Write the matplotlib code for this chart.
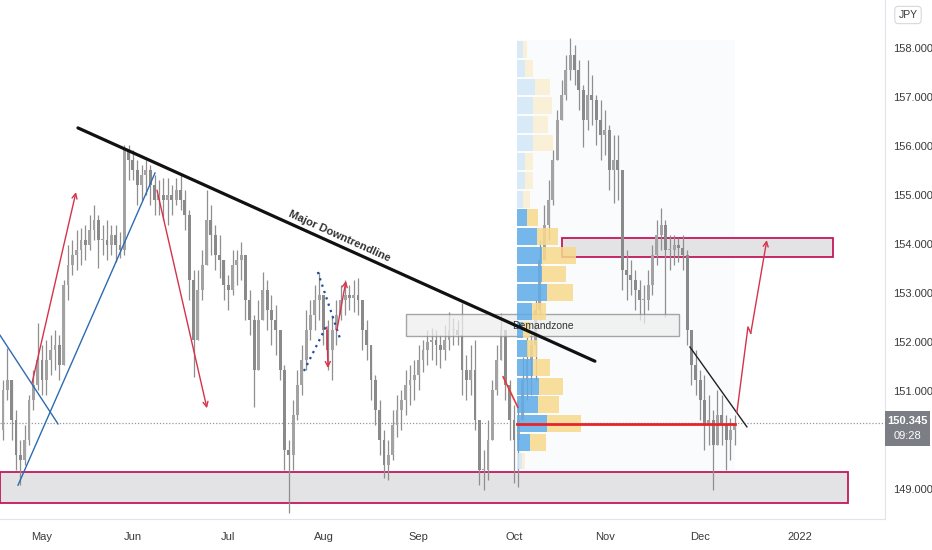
import matplotlib
matplotlib.use('Agg')
import matplotlib.pyplot as plt
import numpy as np
import pandas as pd
from matplotlib.patches import Rectangle
from matplotlib import font_manager

names = {f.name for f in font_manager.fontManager.ttflist}
NARROW = 'Liberation Sans Narrow' if 'Liberation Sans Narrow' in names else 'Liberation Sans'
plt.rcParams['font.family'] = [NARROW, 'DejaVu Sans']

# ---------------- data (daily candles) ----------------
start_date = '2021-04-19'
highs = [150.61, 151.22, 151.88, 150.82, 150.61, 150.00, 150.31, 150.92, 151.43, 152.39,
         151.94, 152.04, 152.14, 152.24, 152.14, 153.27, 153.98, 154.08, 154.29, 154.33,
         154.39, 154.59, 154.80, 154.59, 154.39, 154.49, 154.39, 154.39, 154.25, 156.02,
         156.02, 155.92, 155.71, 155.61, 155.71, 155.61, 155.41, 155.31, 155.35, 155.35,
         155.20, 155.35, 155.41, 155.10, 154.69, 153.47, 153.47, 153.88, 155.10, 154.80,
         154.39, 154.18, 153.67, 153.37, 153.88, 153.88, 154.04, 153.47, 153.06, 152.55,
         152.86, 153.43, 153.27, 152.96, 152.76, 152.24, 151.53, 150.00, 150.82, 151.43,
         151.94, 152.65, 152.86, 153.16, 153.43, 152.86, 152.45, 152.55, 152.86, 153.16,
         153.27, 153.16, 153.27, 153.31, 152.86, 152.45, 151.94, 151.33, 150.82, 150.20,
         150.00, 150.61, 150.92, 151.02, 151.43, 151.53, 151.63, 151.94, 152.04, 152.24,
         152.29, 152.24, 152.14, 152.35, 152.61, 152.49, 152.45, 152.80, 151.73, 151.94,
         152.04, 150.41, 149.80, 150.41, 151.22, 151.94, 152.59, 152.24, 151.22, 150.71,
         150.82, 151.69, 152.10, 152.24, 152.86, 154.08, 154.80, 155.31, 155.92, 156.73,
         157.35, 157.86, 158.20, 158.06, 157.76, 157.25, 157.76, 157.45, 157.04, 156.94,
         156.73, 156.43, 156.22, 156.22, 155.51, 153.88, 153.67, 153.47, 153.27, 153.16,
         153.47, 153.98, 154.49, 154.73, 154.49, 154.18, 154.18, 154.12, 154.18, 153.88,
         151.94, 151.84, 151.43, 151.33, 150.92, 150.61, 151.02, 150.92, 150.51, 150.45, 150.51]
lows = [149.86, 150.00, 150.82, 150.00, 149.39, 149.08, 149.49, 149.90, 150.61, 151.02,
        150.92, 150.92, 151.33, 151.43, 151.22, 151.84, 152.86, 153.37, 153.47, 153.57,
        153.67, 153.88, 154.08, 153.51, 153.78, 153.67, 153.78, 153.63, 153.71, 153.78,
        155.31, 155.31, 154.80, 154.90, 155.00, 154.80, 154.59, 154.59, 154.49, 154.39,
        154.59, 154.80, 154.69, 154.29, 152.86, 151.29, 152.04, 152.86, 153.67, 153.78,
        153.47, 153.31, 152.86, 152.65, 152.96, 153.16, 153.27, 152.45, 152.14, 150.67,
        151.63, 152.45, 152.24, 151.94, 151.73, 151.22, 149.39, 148.51, 149.39, 150.41,
        150.92, 151.43, 152.04, 152.24, 152.45, 151.94, 151.43, 151.22, 151.94, 152.45,
        152.55, 152.65, 152.61, 152.55, 151.84, 151.63, 150.82, 150.31, 149.69, 149.22,
        149.18, 149.59, 150.06, 150.20, 150.51, 150.71, 150.82, 151.02, 151.39, 151.53,
        151.63, 151.53, 151.47, 151.63, 151.84, 151.94, 151.94, 150.92, 150.82, 150.92,
        150.20, 149.08, 148.98, 149.18, 150.00, 150.92, 151.63, 150.82, 150.00, 149.12,
        149.04, 150.41, 150.82, 150.92, 151.22, 152.45, 153.88, 154.08, 154.80, 155.71,
        156.63, 156.94, 157.35, 157.25, 156.73, 155.98, 156.33, 156.43, 156.02, 155.71,
        155.82, 155.10, 154.84, 154.90, 153.06, 152.86, 152.96, 152.65, 152.45, 152.39,
        152.65, 152.96, 153.57, 153.88, 152.51, 153.47, 153.57, 153.63, 153.47, 151.94,
        151.12, 150.92, 150.41, 149.80, 149.90, 148.98, 150.00, 149.90, 149.39, 149.59, 149.90]
closes = [150.20, 151.02, 151.22, 150.41, 149.69, 149.59, 150.00, 150.82, 151.12, 151.63,
          151.22, 151.63, 151.84, 151.94, 151.53, 153.16, 153.57, 153.78, 153.88, 154.08,
          153.98, 154.29, 154.49, 154.08, 154.08, 153.98, 154.18, 153.98, 153.88, 155.92,
          155.71, 155.51, 155.20, 155.41, 155.51, 155.20, 154.90, 155.00, 154.90, 155.00,
          154.90, 155.10, 154.90, 154.59, 153.27, 152.04, 153.06, 153.57, 154.49, 154.18,
          153.78, 153.67, 153.16, 153.06, 153.57, 153.67, 153.78, 152.86, 152.45, 151.43,
          152.45, 153.06, 152.65, 152.45, 152.24, 151.43, 149.80, 149.69, 150.51, 151.12,
          151.63, 152.24, 152.55, 152.86, 152.96, 152.24, 151.84, 152.24, 152.55, 152.86,
          152.96, 152.90, 152.96, 152.86, 152.24, 151.94, 151.22, 150.61, 150.00, 149.49,
          149.69, 150.31, 150.61, 150.82, 151.12, 151.22, 151.33, 151.63, 151.84, 152.00,
          152.04, 151.94, 151.84, 152.04, 152.24, 152.24, 152.14, 151.43, 151.22, 151.43,
          150.41, 149.39, 149.39, 150.00, 151.02, 151.63, 152.24, 151.12, 150.41, 150.00,
          150.41, 151.22, 151.63, 151.94, 152.65, 153.67, 154.39, 154.90, 155.71, 156.53,
          157.04, 157.55, 157.86, 157.55, 157.14, 156.53, 157.04, 156.94, 156.53, 156.22,
          156.33, 155.51, 155.71, 155.51, 153.47, 153.37, 153.27, 153.06, 152.86, 152.86,
          153.16, 153.78, 154.18, 154.39, 153.88, 153.88, 153.98, 153.92, 153.78, 152.24,
          151.53, 151.22, 150.82, 150.31, 150.41, 149.90, 150.51, 150.31, 150.00, 150.20, 150.35]
first_open = 150.40
last_price = 150.345
countdown = '09:28'

# volume profile (fixed range from Oct 1), top row first
vp_top = 158.16
vp_row = 0.3816
vp_up = [6, 8, 18, 16, 16, 16, 8, 8, 6, 10, 20, 25, 25, 30, 15, 6, 10, 16, 22, 21, 30, 13, 5]
vp_down = [4, 8, 15, 19, 15, 20, 8, 8, 7, 11, 21, 34, 24, 26, 14, 7, 10, 17, 24, 21, 34, 16, 3]
vp_value_area = (9, 21)   # row indices inclusive, saturated

price_ticks = [149, 150, 151, 152, 153, 154, 155, 156, 157, 158]
month_labels = ['May', 'Jun', 'Jul', 'Aug', 'Sep', 'Oct', 'Nov', 'Dec', '2022']
month_starts = ['2021-05', '2021-06', '2021-07', '2021-08', '2021-09', '2021-10',
                '2021-11', '2021-12', '2022-01']

# ---------------- setup ----------------
n = len(closes)
dates = pd.bdate_range(start_date, periods=n)
all_days = pd.bdate_range(start_date, '2022-02-28')
xi = np.arange(n)
opens = [first_open] + closes[:-1]

fig = plt.figure(figsize=(9.32, 5.5), dpi=100)
fig.patch.set_facecolor('white')
ax = fig.add_axes([0, 31 / 550, 885 / 932, 519 / 550])
ax.set_facecolor('white')
ax.set_xlim(0.3, 204.7)
ax.set_ylim(148.39, 158.98)

def bidx(date_str):
    return int(np.searchsorted(all_days, pd.Timestamp(date_str)))

# zones (behind candles)
ax.add_patch(Rectangle((0.3, 148.71), 196.1 - 0.3, 149.35 - 148.71, facecolor='#e3e3e5',
                       edgecolor='#c2185b', lw=1.3, zorder=1))
ax.add_patch(Rectangle((130.1, 153.74), 192.7 - 130.1, 154.12 - 153.74, facecolor='#e3e3e5',
                       edgecolor='#c2185b', lw=1.3, zorder=1))
# faint fixed-range background
ax.add_patch(Rectangle((119.7, 149.38), 170.0 - 119.7, 158.16 - 149.38, facecolor='#f4f8fc',
                       edgecolor='none', alpha=0.5, zorder=0.5))

# candles
for k in range(n):
    o, c = opens[k], closes[k]
    h = max(highs[k], o, c)
    l = min(lows[k], o, c)
    col = '#a3a3a3' if c >= o else '#8a8a8a'
    ax.vlines(xi[k], l, h, color='#8f8f8f', lw=0.9, zorder=2)
    ax.add_patch(Rectangle((xi[k] - 0.33, min(o, c)), 0.66, max(abs(c - o), 0.02),
                           facecolor=col, edgecolor='none', zorder=2))

# demand zone (semi transparent, above candles)
ax.add_patch(Rectangle((94.1, 152.12), 157.1 - 94.1, 152.57 - 152.12, facecolor='#eeeeee',
                       edgecolor='#8a8a8a', lw=1.0, alpha=0.75, zorder=3))
ax.text(125.7, 152.33, 'Demandzone', fontsize=7.5, color='#333333', ha='center', va='center', zorder=6)

# volume profile
scale = 14.8 / max(u + d for u, d in zip(vp_up, vp_down))
for r, (u, d) in enumerate(zip(vp_up, vp_down)):
    y0 = vp_top - (r + 1) * vp_row
    inside = vp_value_area[0] <= r <= vp_value_area[1]
    bc = '#5eace8' if inside else '#d3e7f8'
    yc = '#f8d98c' if inside else '#fbefd2'
    ax.add_patch(Rectangle((119.7, y0 + 0.02), u * scale, vp_row - 0.04, facecolor=bc,
                           edgecolor='none', alpha=0.85, zorder=4))
    ax.add_patch(Rectangle((119.7 + u * scale, y0 + 0.02), d * scale, vp_row - 0.04, facecolor=yc,
                           edgecolor='none', alpha=0.85, zorder=4))

# POC line
ax.plot([119.7, 170.0], [150.33, 150.33], color='#e8242b', lw=2, zorder=5)
# current price dotted line
ax.axhline(last_price, color='#9598a1', lw=0.9, ls=(0, (1, 1.5)), zorder=1.5)

# major downtrendline
ax.plot([18.3, 137.7], [156.37, 151.61], color='#111111', lw=2.3, zorder=6, solid_capstyle='round')
ax.text(78.8, 154.16, 'Major Downtrendline', fontsize=8, fontweight='bold', color='#333333',
        rotation=-24.3, ha='center', va='center', zorder=6)

# blue trendlines
ax.plot([0.3, 13.7], [152.14, 150.33], color='#2b6cb0', lw=1.0, zorder=6)
ax.plot([4.46, 36.1], [149.08, 155.45], color='#2b6cb0', lw=1.0, zorder=6)
ax.plot([73.7, 78.8], [153.43, 152.08], color='#1f4e9c', lw=1.6, ls=(0, (1, 2)), zorder=6)
ax.plot([70.5, 75.8], [151.41, 152.35], color='#1f4e9c', lw=1.6, ls=(0, (1, 2)), zorder=6)

# red arrows
RED = '#d6334a'
def arrow(x0, y0, x1, y1, col=RED, lw=1.0):
    ax.annotate('', xy=(x1, y1), xytext=(x0, y0),
                arrowprops=dict(arrowstyle='->', color=col, lw=lw, mutation_scale=9,
                                shrinkA=0, shrinkB=0), zorder=7)

arrow(7.69, 151.16, 17.85, 155.06)
arrow(36.56, 155.10, 48.1, 150.65)
arrow(75.8, 152.31, 76.05, 151.47)
arrow(78.1, 152.24, 80.2, 153.25)
ax.plot([116.5, 119.9], [151.29, 150.67], color='#e53935', lw=1.2, zorder=7)
ax.plot([170.5, 173.05, 173.7], [150.57, 152.31, 152.18], color=RED, lw=1.0, zorder=7)
arrow(173.7, 152.18, 177.4, 154.08)
# small black trendline
ax.plot([159.65, 172.8], [151.90, 150.27], color='#222222', lw=1.0, zorder=6)

# axes styling
for s in ['top', 'left']:
    ax.spines[s].set_visible(False)
ax.spines['right'].set_color('#e0e3eb')
ax.spines['bottom'].set_color('#e0e3eb')
ax.yaxis.tick_right()
ax.set_yticks(price_ticks)
# the 150.000 label is hidden under the last-price badge in the reference
ax.set_yticklabels(['' if v == 150 else f'{v:.3f}' for v in price_ticks])
ax.tick_params(axis='y', length=0, pad=6, labelsize=8, labelcolor='#3a3a3a')
ax.set_xticks([bidx(m + '-01') for m in month_starts])
ax.set_xticklabels(month_labels)
ax.tick_params(axis='x', length=0, pad=9, labelsize=8, labelcolor='#3a3a3a')

# last price label
fig.add_artist(Rectangle((885 / 932, 1 - 446 / 550), 45 / 932, 35 / 550, transform=fig.transFigure,
                         facecolor='#7b7e85', edgecolor='none', zorder=10))
fig.text(907.5 / 932, 1 - 421 / 550, f'{last_price:.3f}', color='white', fontsize=8, ha='center',
         va='center', fontweight='bold', zorder=11)
fig.text(907.5 / 932, 1 - 436 / 550, countdown, color='white', fontsize=8, ha='center', va='center',
         zorder=11)
# currency badge
fig.text(908 / 932, 1 - 15 / 550, 'JPY', color='#3a3a3a', fontsize=7.5, ha='center', va='center',
         bbox=dict(boxstyle='round,pad=0.35', fc='white', ec='#d6d8de', lw=0.8))

fig.savefig('out.png', dpi=100, facecolor='white')
